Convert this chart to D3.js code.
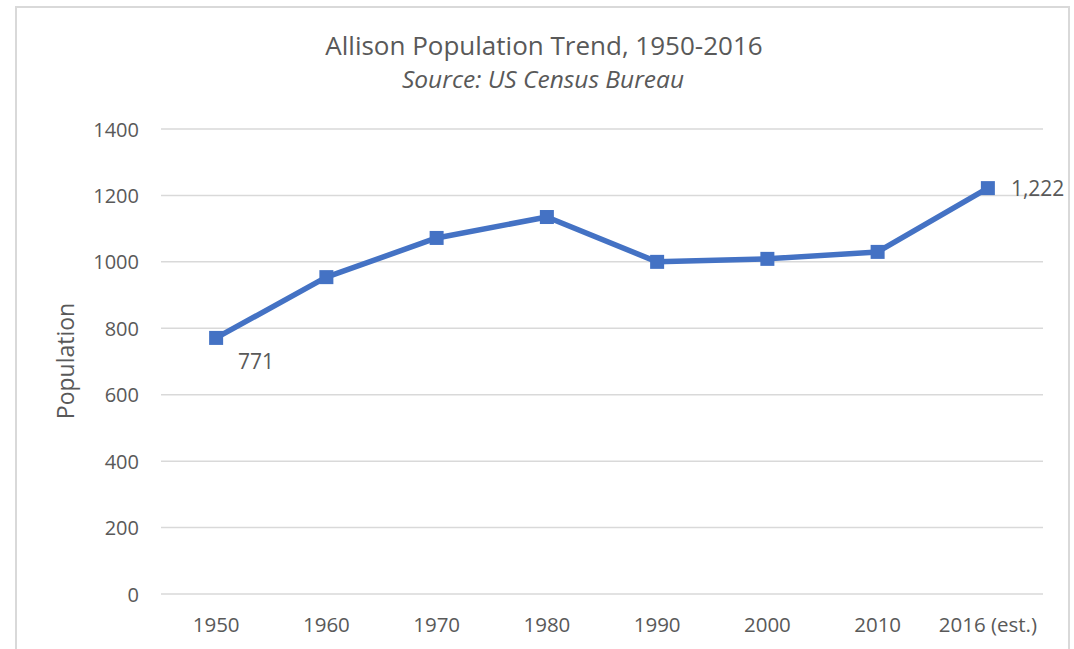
<!DOCTYPE html>
<html>
<head>
<meta charset="utf-8">
<script src="https://cdn.jsdelivr.net/npm/d3@7"></script>
<style>
  body { margin: 0; background: #fff; }
  text { font-family: "Open Sans", "Liberation Sans", sans-serif; fill: #595959; }
</style>
</head>
<body>
<div class="chart"></div>
<script>
// Data
var years = ["1950", "1960", "1970", "1980", "1990", "2000", "2010", "2016 (est.)"];
var population = [771, 954, 1072, 1135, 1000, 1009, 1030, 1222];
var yTicks = [0, 200, 400, 600, 800, 1000, 1200, 1400];
var labelledPoints = [0, 7]; // indices with data labels

var width = 1074, height = 649;
var plot = { left: 161, right: 1043, top: 129, bottom: 594 };

var svg = d3.select(".chart").append("svg")
    .attr("width", width)
    .attr("height", height);

// chart border
svg.append("rect")
    .attr("x", 16).attr("y", 7)
    .attr("width", 1053).attr("height", 660)
    .attr("fill", "none")
    .attr("stroke", "#d9d9d9")
    .attr("stroke-width", 2);

var x = d3.scaleBand().domain(years).range([plot.left, plot.right]);
var y = d3.scaleLinear().domain([0, 1400]).range([plot.bottom, plot.top]);

// gridlines
svg.append("g").selectAll("line")
    .data(yTicks).enter().append("line")
    .attr("x1", plot.left).attr("x2", plot.right)
    .attr("y1", function(d) { return y(d); })
    .attr("y2", function(d) { return y(d); })
    .attr("stroke", "#d9d9d9")
    .attr("stroke-width", 1.5);

// y axis labels
var yAxis = d3.axisLeft(y).tickValues(yTicks).tickFormat(d3.format("d")).tickSize(0).tickPadding(0);
var gy = svg.append("g").attr("transform", "translate(139,0)").call(yAxis);
gy.select(".domain").remove();
gy.selectAll("text")
    .style("font-size", "20px")
    .attr("fill", "#595959")
    .attr("dy", "0.35em");

// x axis labels
var xAxis = d3.axisBottom(x).tickSize(0).tickPadding(0);
var gx = svg.append("g").attr("transform", "translate(0,618)").call(xAxis);
gx.select(".domain").remove();
gx.selectAll("text")
    .style("font-size", "20.5px")
    .attr("fill", "#595959")
    .attr("dy", "0.7em");

// title
svg.append("text")
    .attr("x", 544).attr("y", 55)
    .attr("text-anchor", "middle")
    .style("font-size", "26px")
    .text("Allison Population Trend, 1950-2016");
svg.append("text")
    .attr("x", 543).attr("y", 88)
    .attr("text-anchor", "middle")
    .style("font-size", "24.5px")
    .style("font-style", "italic")
    .text("Source: US Census Bureau");

// y axis title
svg.append("text")
    .attr("transform", "translate(74,361) rotate(-90)")
    .attr("text-anchor", "middle")
    .style("font-size", "23px")
    .text("Population");

// line
var cx = function(d, i) { return x(years[i]) + x.bandwidth() / 2; };
var line = d3.line()
    .x(cx)
    .y(function(d) { return y(d); });

svg.append("path")
    .datum(population)
    .attr("d", line)
    .attr("fill", "none")
    .attr("stroke", "#4472c4")
    .attr("stroke-width", 5.5)
    .attr("stroke-linejoin", "round");

svg.append("g").selectAll("rect")
    .data(population).enter().append("rect")
    .attr("x", function(d, i) { return cx(d, i) - 7; })
    .attr("y", function(d) { return y(d) - 7; })
    .attr("width", 14).attr("height", 14)
    .attr("fill", "#4472c4");

// data labels
var fmt = d3.format(",");
svg.append("g").selectAll("text")
    .data(labelledPoints).enter().append("text")
    .attr("x", function(i) { return cx(population[i], i) + (i === 0 ? 40 : 23); })
    .attr("y", function(i) { return y(population[i]) + (i === 0 ? 31 : 8); })
    .attr("text-anchor", function(i) { return i === 0 ? "middle" : "start"; })
    .style("font-size", "21px")
    .attr("fill", "#404040")
    .text(function(i) { return fmt(population[i]); });
</script>
</body>
</html>
